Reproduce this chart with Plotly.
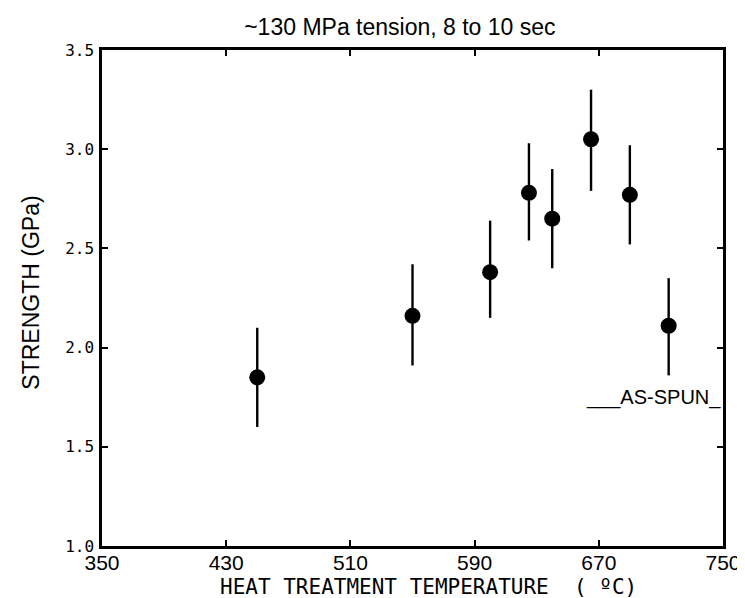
import plotly.graph_objects as go

# Data
temperature = [450, 550, 600, 625, 640, 665, 690, 715]          # °C
strength = [1.85, 2.16, 2.38, 2.78, 2.65, 3.05, 2.77, 2.11]      # GPa
err_plus = [0.25, 0.26, 0.26, 0.25, 0.25, 0.25, 0.25, 0.24]
err_minus = [0.25, 0.25, 0.23, 0.24, 0.25, 0.26, 0.25, 0.25]

x_ticks = [350, 430, 510, 590, 670, 750]
y_ticks = [1.0, 1.5, 2.0, 2.5, 3.0, 3.5]

title_text = "~130 MPa tension, 8 to 10 sec"
x_title = "HEAT TREATMENT TEMPERATURE &nbsp;( ºC)"
y_title = "STRENGTH (GPa)"
note_text = "___AS-SPUN_"

sans = "Liberation Sans, Arial, sans-serif"
mono = "DejaVu Sans Mono, Liberation Mono, monospace"

fig = go.Figure()
fig.add_trace(go.Scatter(
    x=temperature, y=strength, mode="markers",
    marker=dict(size=16, color="black"),
    error_y=dict(type="data", symmetric=False, array=err_plus, arrayminus=err_minus,
                 width=0, thickness=2.4, color="black"),
    showlegend=False,
))

fig.add_annotation(
    x=705, y=1.75, xref="x", yref="y", text=note_text, showarrow=False,
    font=dict(family=sans, size=20, color="black"),
)
# axis titles as annotations for precise placement
fig.add_annotation(
    x=0.526, y=-0.083, xref="paper", yref="paper", text=x_title, showarrow=False,
    xanchor="center", yanchor="middle",
    font=dict(family=mono, size=21, color="black"),
)
fig.add_annotation(
    x=-0.115, y=0.51, xref="paper", yref="paper", text=y_title, showarrow=False,
    textangle=-90, xanchor="center", yanchor="middle",
    font=dict(family=sans, size=23, color="black"),
)

axis_common = dict(
    showgrid=False, zeroline=False, showline=True, linecolor="black", linewidth=2.5,
    mirror="ticks", ticks="inside", ticklen=6, tickwidth=2, tickcolor="black",
)

fig.update_layout(
    width=745, height=598,
    margin=dict(l=94, r=22, t=42, b=60),
    paper_bgcolor="white", plot_bgcolor="white",
    title=dict(text=title_text, x=0.526, xanchor="center", y=0.968, yanchor="middle",
               yref="container", font=dict(family=sans, size=23, color="black")),
    xaxis=dict(range=[350, 750], tickvals=x_ticks, ticktext=[str(v) for v in x_ticks],
               tickfont=dict(family=sans, size=21, color="black"),
               ticklabelstandoff=-4,
               **axis_common),
    yaxis=dict(range=[1.0, 3.5], tickvals=y_ticks, ticktext=[f"{v:.1f}" for v in y_ticks],
               tickfont=dict(family=mono, size=16, color="black"),
               ticklabelstandoff=2,
               **axis_common),
)

fig.write_html("out.html")
